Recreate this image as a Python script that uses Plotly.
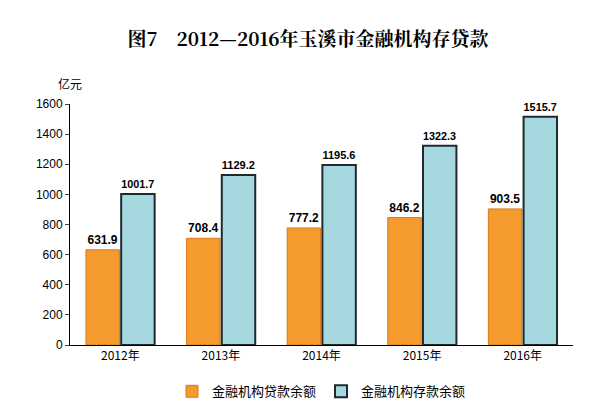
import plotly.graph_objects as go

years = ["2012年", "2013年", "2014年", "2015年", "2016年"]
loans = [631.9, 708.4, 777.2, 846.2, 903.5]
deposits = [1001.7, 1129.2, 1195.6, 1322.3, 1515.7]

fig = go.Figure()
fig.add_trace(go.Bar(x=years, y=loans, name="金融机构贷款余额",
                     marker=dict(color="#F59B2E", line=dict(color="#D9781A", width=1)),
                     text=[f"<b>{v:.1f}</b>" for v in loans], textposition="outside",
                     cliponaxis=False,
                     textfont=dict(size=12, color="black", family="Liberation Sans")))
fig.add_trace(go.Bar(x=years, y=deposits, name="金融机构存款余额",
                     marker=dict(color="#A6D9DF", line=dict(color="#1E2A2E", width=2)),
                     text=[f"<b>{v:.1f}</b>" for v in deposits], textposition="outside",
                     cliponaxis=False,
                     textfont=dict(size=12, color="black", family="Liberation Sans")))

fig.update_layout(
    width=600, height=410,
    margin=dict(l=62, r=35, t=96, b=66),
    plot_bgcolor="white", paper_bgcolor="white",
    barmode="group", bargap=0.3, bargroupgap=0.05,
    font=dict(family="Noto Sans CJK SC", size=12, color="black"),
    title=dict(text="<b>图7　2012—2016年玉溪市金融机构存贷款</b>", x=0.5, y=0.94,
               xanchor="center", font=dict(size=19, family="Noto Serif CJK SC, Noto Sans CJK SC")),
    xaxis=dict(showline=True, linecolor="black", ticks="", tickfont=dict(size=12)),
    yaxis=dict(range=[0, 1600], dtick=200, showline=True, linecolor="black",
               ticks="outside", ticklen=4, showgrid=False,
               tickfont=dict(size=12, family="Liberation Sans")),
    legend=dict(orientation="h", x=0.5, xanchor="center", y=-0.13, yanchor="top",
                font=dict(size=13)),
    annotations=[dict(text="亿元", xref="paper", yref="paper", x=0.0, y=1.13,
                      xanchor="center", showarrow=False, font=dict(size=12))],
)
fig.write_html("out.html")
